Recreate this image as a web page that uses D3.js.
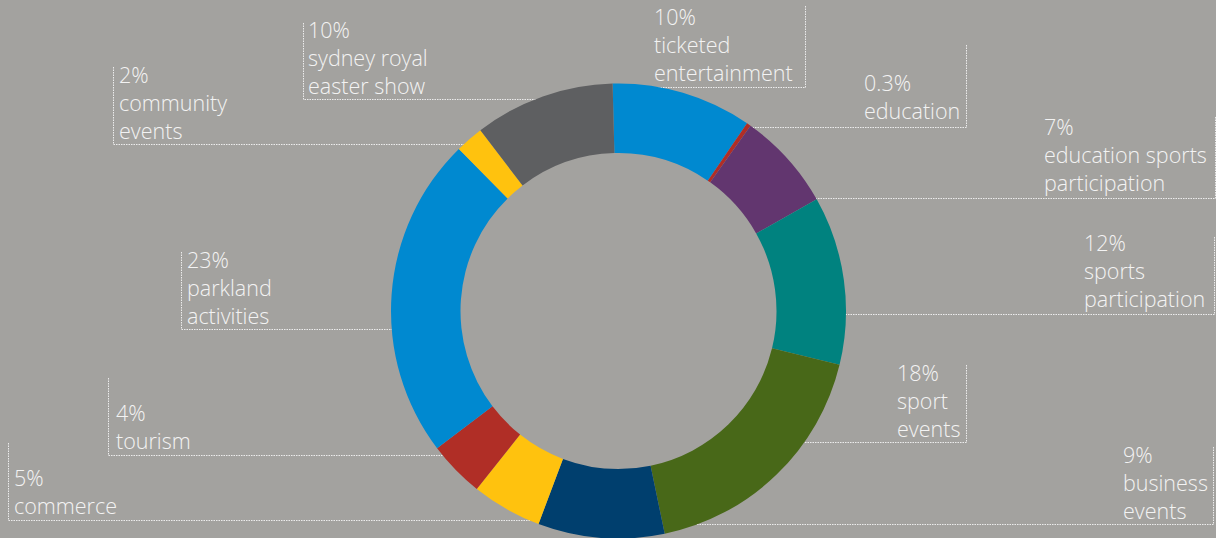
<!DOCTYPE html>
<html>
<head>
<meta charset="utf-8">
<script src="https://cdn.jsdelivr.net/npm/d3@7"></script>
<style>
  html, body { margin: 0; padding: 0; background: #a3a29f; }
  svg { display: block; }
</style>
</head>
<body>
<div id="chart"></div>
<script>
// dades
let categories = ['ticketed entertainment', 'education', 'education sports participation',
  'sports participation', 'sport events', 'business events', 'commerce', 'tourism',
  'parkland activities', 'community events', 'sydney royal easter show']
let valors = [10, 0.3, 7, 12, 18, 9, 5, 4, 23, 2, 10]
let etiquetes = ['10%', '0.3%', '7%', '12%', '18%', '9%', '5%', '4%', '23%', '2%', '10%']
let linies = [['ticketed', 'entertainment'], ['education'], ['education sports', 'participation'],
  ['sports', 'participation'], ['sport', 'events'], ['business', 'events'], ['commerce'],
  ['tourism'], ['parkland', 'activities'], ['community', 'events'], ['sydney royal', 'easter show']]
let colors = ['#0089d0', '#b02e26', '#62366f', '#00827f', '#486818', '#003f6e',
  '#ffc20e', '#b02e26', '#0089d0', '#ffc20e', '#5e5f61']

// posicions de les etiquetes: x text, y primera línia, costat del claudator, x claudator, y dalt, y baix
let layout = [
  { tx: 654, ty: 17, side: 'r', bx: 805, y0: 6, y1: 87 },
  { tx: 864, ty: 83, side: 'r', bx: 966, y0: 45, y1: 127 },
  { tx: 1044, ty: 127, side: 'r', bx: 1215, y0: 117, y1: 198 },
  { tx: 1084, ty: 243, side: 'r', bx: 1214, y0: 237, y1: 314 },
  { tx: 897, ty: 373, side: 'r', bx: 966, y0: 365, y1: 442 },
  { tx: 1123, ty: 455, side: 'r', bx: 1213, y0: 447, y1: 524 },
  { tx: 14, ty: 478, side: 'l', bx: 8, y0: 443, y1: 520 },
  { tx: 116, ty: 413, side: 'l', bx: 108, y0: 378, y1: 455 },
  { tx: 187, ty: 260, side: 'l', bx: 181, y0: 252, y1: 329 },
  { tx: 119, ty: 75, side: 'l', bx: 113, y0: 67, y1: 144 },
  { tx: 308, ty: 30, side: 'l', bx: 303, y0: 23, y1: 99 }
]

let ample = 1216
let alt = 538
let cx = 618.5
let cy = 311
let rExt = 227.5
let rInt = 158
let interlinia = 28
let desfase = -0.026

let svg = d3.select('#chart')
  .append('svg')
  .attr('width', ample)
  .attr('height', alt)

svg.append('rect')
  .attr('width', ample)
  .attr('height', alt)
  .attr('fill', '#a3a29f')

// línies guia (per sota del donut)
let guies = svg.append('g')
  .attr('fill', 'none')
  .attr('stroke', '#ececec')
  .attr('stroke-width', 1)
  .attr('stroke-dasharray', '1.5,1')

layout.forEach((l, i) => {
  let dy = l.y1 - cy
  let dx = Math.sqrt(Math.max(0, rExt * rExt - dy * dy))
  let xFi = l.side === 'r' ? cx + dx - 2 : cx - dx + 2
  guies.append('path')
    .attr('d', `M${l.bx + 0.5},${l.y0}V${l.y1 + 0.5}H${xFi}`)
})

// donut
let pie = d3.pie()
  .sort(null)
  .startAngle(desfase)
  .endAngle(2 * Math.PI + desfase)

let arc = d3.arc()
  .innerRadius(rInt)
  .outerRadius(rExt)

svg.append('g')
  .attr('transform', `translate(${cx},${cy})`)
  .selectAll('path')
  .data(pie(valors))
  .enter()
  .append('path')
  .attr('d', arc)
  .attr('fill', (_, i) => colors[i])

// textos
let textos = svg.append('g')
  .attr('fill', '#f3f3f3')
  .style('font-family', '"Open Sans", "Lato", sans-serif')
  .style('font-weight', 300)
  .style('font-size', '21.5px')

categories.forEach((c, i) => {
  let l = layout[i]
  let t = textos.append('text')
    .attr('x', l.tx)
    .attr('y', l.ty)
  let files = [etiquetes[i]].concat(linies[i])
  files.forEach((f, j) => {
    t.append('tspan')
      .attr('x', l.tx)
      .attr('y', l.ty + j * interlinia)
      .attr('dy', '0.35em')
      .text(f)
  })
})
</script>
</body>
</html>
